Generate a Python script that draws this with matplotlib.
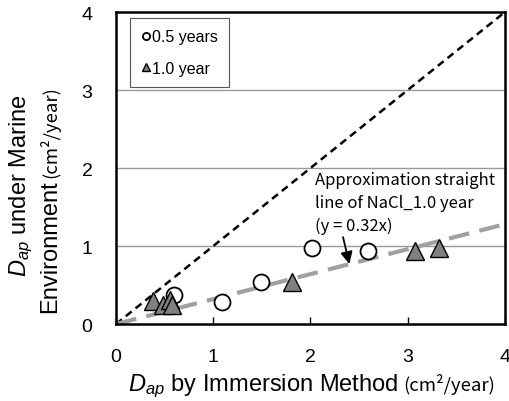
import matplotlib
matplotlib.use("Agg")
import matplotlib.pyplot as plt
import numpy as np

plt.rcParams['font.family'] = ['Liberation Sans', 'DejaVu Sans']
plt.rcParams['mathtext.fontset'] = 'custom'
plt.rcParams['mathtext.it'] = 'Liberation Sans:italic'
plt.rcParams['mathtext.rm'] = 'Liberation Sans'

# Data
x_half = [0.60, 1.09, 1.49, 2.02, 2.59]
y_half = [0.37, 0.28, 0.54, 0.98, 0.94]
x_one = [0.38, 0.48, 0.56, 0.58, 1.81, 3.08, 3.32]
y_one = [0.30, 0.25, 0.31, 0.24, 0.54, 0.94, 0.97]
fit_slope = 0.32
ticks = [0, 1, 2, 3, 4]

fig = plt.figure(figsize=(5.09, 4.02), dpi=100)
ax = fig.add_axes([0.228, 0.1915, 0.764, 0.776])
ax.set_xlim(0, 4)
ax.set_ylim(0, 4)

for yv in [1, 2, 3]:
    ax.axhline(yv, color='#999999', lw=1.0, zorder=0)

xx = np.array([0, 4])
ax.plot(xx, xx, color='black', lw=1.8, ls=(0, (3, 2)), zorder=2)
ax.plot(xx, fit_slope * xx, color='#a0a0a0', lw=3.0, ls=(0, (5, 2.5)), zorder=2)

ax.plot(x_half, y_half, ls='none', marker='o', ms=11.5, mfc='white', mec='black', mew=1.3,
        zorder=3, label='0.5 years')
ax.plot(x_one, y_one, ls='none', marker='^', ms=13, mfc='#808080', mec='black', mew=1.0,
        zorder=4, label='1.0 year')

for s in ax.spines.values():
    s.set_linewidth(1.8)
    s.set_color('black')

ax.set_xticks(ticks)
ax.set_yticks(ticks)
ax.set_xticklabels([str(t) for t in ticks])
ax.set_yticklabels([str(t) for t in ticks])
ax.tick_params(axis='x', direction='in', length=5, width=1, pad=17, labelsize=14)
ax.tick_params(axis='y', length=0, pad=17, labelsize=14)

leg = ax.legend(loc='upper left', bbox_to_anchor=(0.036, 0.981), fontsize=11.5,
                markerscale=0.45, handlelength=0.55, handletextpad=0.1,
                labelspacing=1.05, borderpad=0.7, borderaxespad=0,
                fancybox=False, framealpha=1, edgecolor='#555555')
leg.get_frame().set_linewidth(0.8)

ax.annotate('Approximation straight\nline of NaCl_1.0 year\n(y = 0.32x)',
            xy=(2.40, 0.77), xytext=(2.05, 1.15),
            fontsize=12, family=['Noto Sans CJK JP', 'DejaVu Sans'],
            ha='left', va='bottom', linespacing=1.45,
            arrowprops=dict(arrowstyle='-|>', color='black', lw=1.3,
                            mutation_scale=18, shrinkA=0, shrinkB=0,
                            relpos=(0.15, 0.0)))

H = 402.0
W = 509.0
# x label
fig.text(128 / W, 1 - 391 / H, r'$D_{ap}$ by Immersion Method', fontsize=17,
         ha='left', va='baseline')
fig.text(403 / W, 1 - 391 / H, '(cm²/year)', fontsize=13.4,
         family=['Noto Sans CJK JP', 'DejaVu Sans'], ha='left', va='baseline')
# y label
fig.text(26 / W, 1 - 277 / H, r'$D_{ap}$ under Marine', fontsize=17, rotation=90,
         rotation_mode='anchor', ha='left', va='baseline')
fig.text(56 / W, 1 - 313 / H, 'Environment', fontsize=17, rotation=90,
         rotation_mode='anchor', ha='left', va='baseline')
fig.text(56 / W, 1 - 178 / H, '(cm²/year)', fontsize=13.4, rotation=90,
         family=['Noto Sans CJK JP', 'DejaVu Sans'],
         rotation_mode='anchor', ha='left', va='baseline')

fig.savefig('out.png', dpi=100)
